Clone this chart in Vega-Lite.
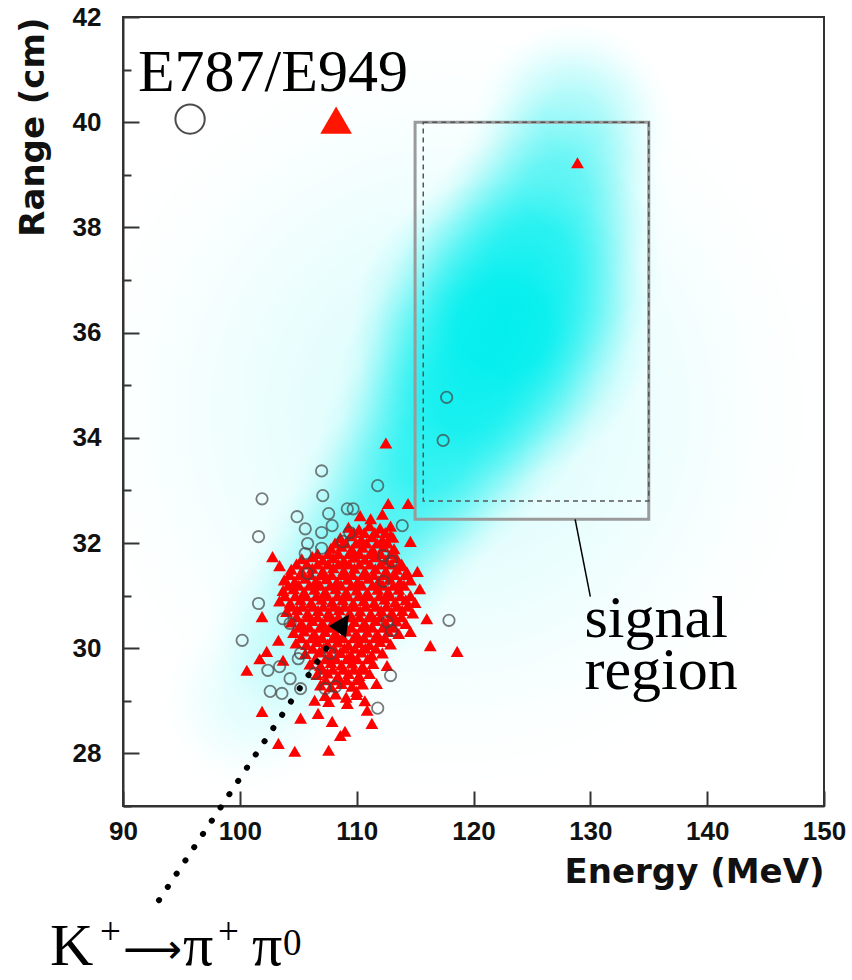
{
  "$schema": "https://vega.github.io/schema/vega-lite/v6.json",
  "width": 701,
  "height": 789,
  "autosize": "none",
  "padding": {"left": 123, "top": 17, "right": 28, "bottom": 174},
  "background": "white",
  "config": {
    "view": {"stroke": "#333", "strokeWidth": 2},
    "axis": {"grid": false, "domainColor": "#333", "domainWidth": 2, "tickColor": "#333", "tickWidth": 2,
      "labelFont": "Liberation Sans", "labelFontWeight": "bold", "labelFontSize": 26, "labelColor": "#111",
      "labelFlush": false, "labelOverlap": false,
      "titleFont": "DejaVu Sans", "titleFontWeight": "bold", "titleFontSize": 34, "titleColor": "#111"}
  },
  "layer": [
    {
      "data": {"values": [
        {"e1": 85.47, "e2": 150.53, "r1": 27.29, "r2": 41.72, "peak": 0.12},
        {"e1": 93.29, "e2": 108.71, "r1": 27.29, "r2": 30.71, "peak": 0.1},
        {"e1": 96.94, "e2": 114.06, "r1": 28.40, "r2": 32.20, "peak": 0.22},
        {"e1": 100.94, "e2": 118.06, "r1": 29.60, "r2": 33.40, "peak": 0.35},
        {"e1": 104.01, "e2": 121.99, "r1": 30.61, "r2": 34.59, "peak": 0.45},
        {"e1": 106.65, "e2": 126.35, "r1": 31.52, "r2": 35.88, "peak": 0.6},
        {"e1": 108.37, "e2": 130.63, "r1": 32.43, "r2": 37.37, "peak": 0.75},
        {"e1": 109.66, "e2": 135.34, "r1": 33.25, "r2": 38.95, "peak": 0.95},
        {"e1": 113.87, "e2": 136.13, "r1": 34.83, "r2": 39.77, "peak": 0.65},
        {"e1": 117.58, "e2": 136.42, "r1": 36.51, "r2": 40.69, "peak": 0.45},
        {"e1": 119.94, "e2": 137.06, "r1": 38.10, "r2": 41.90, "peak": 0.3}
      ]},
      "mark": {"type": "rect", "clip": true, "strokeWidth": 0,
        "fill": {"gradient": "radial", "x1": 0.5, "y1": 0.5, "r1": 0, "x2": 0.5, "y2": 0.5, "r2": 0.5,
          "stops": [
            {"offset": 0, "color": "rgba(0,238,238,1)"},
            {"offset": 0.3, "color": "rgba(0,238,238,0.92)"},
            {"offset": 0.5, "color": "rgba(0,238,238,0.62)"},
            {"offset": 0.7, "color": "rgba(0,238,238,0.3)"},
            {"offset": 0.85, "color": "rgba(0,238,238,0.1)"},
            {"offset": 1, "color": "rgba(0,238,238,0)"}
          ]}},
      "encoding": {
        "x": {"field": "e1", "type": "quantitative", "scale": {"domain": [90, 150], "nice": false, "zero": false},
          "axis": {"values": [90,91,92,94,95,96,98,99,100,101,102,104,105,106,108,109,110,111,112,114,115,116,118,119,120,121,122,124,125,126,128,129,130,131,132,134,135,136,138,139,140,141,142,144,145,146,148,149,150],
            "labelExpr": "datum.value % 10 === 0 ? datum.label : ''",
            "labelOverlap": false, "labelFlush": false,
            "tickSize": {"condition": {"test": "datum.value % 10 === 0", "value": -15}, "value": -7},
            "tickOpacity": {"condition": {"test": "datum.value % 2 !== 0", "value": 0}, "value": 1},
            "labelPadding": 27,
            "title": "Energy (MeV)", "titleX": 701, "titleY": 76, "titleAlign": "right", "titleBaseline": "alphabetic", "titleAnchor": "end"}},
        "x2": {"field": "e2"},
        "y": {"field": "r1", "type": "quantitative", "scale": {"domain": [27, 42], "nice": false, "zero": false},
          "axis": {"values": [27,27.5,28,28.5,29,29.5,30,30.5,31,31.5,32,32.5,33,33.5,34,34.5,35,35.5,36,36.5,37,37.5,38,38.5,39,39.5,40,40.5,41,41.5,42],
            "labelExpr": "datum.value % 2 === 0 ? datum.label : ''",
            "labelOverlap": false, "labelFlush": false,
            "tickSize": {"condition": {"test": "datum.value % 2 === 0", "value": -16}, "value": -8},
            "labelPadding": 38,
            "title": "Range (cm)", "titleAngle": -90, "titleX": -90, "titleY": 0, "titleAlign": "right", "titleBaseline": "middle", "titleAnchor": "end"}},
        "y2": {"field": "r2"},
        "opacity": {"field": "peak", "type": "quantitative", "scale": null}
      }
    },
    {
      "data": {"values": [{"e1": 115, "e2": 135, "r1": 32.45, "r2": 40}]},
      "mark": {"type": "rect", "filled": false, "stroke": "#9a9a9a", "strokeWidth": 3},
      "encoding": {
        "x": {"field": "e1", "type": "quantitative", "scale": {"domain": [90, 150], "nice": false, "zero": false}},
        "x2": {"field": "e2"},
        "y": {"field": "r1", "type": "quantitative", "scale": {"domain": [27, 42], "nice": false, "zero": false}},
        "y2": {"field": "r2"}
      }
    },
    {
      "data": {"values": [{"e1": 115.7, "e2": 135, "r1": 32.8, "r2": 40}]},
      "mark": {"type": "rect", "filled": false, "stroke": "#555", "strokeWidth": 1.5, "strokeDash": [5, 4]},
      "encoding": {
        "x": {"field": "e1", "type": "quantitative", "scale": {"domain": [90, 150], "nice": false, "zero": false}},
        "x2": {"field": "e2"},
        "y": {"field": "r1", "type": "quantitative", "scale": {"domain": [27, 42], "nice": false, "zero": false}},
        "y2": {"field": "r2"}
      }
    },
    {
      "data": {"values": [
        {"energy": 128.9, "range": 39.23}, {"energy": 112.5, "range": 33.9}, {"energy": 112.7, "range": 32.75}, {"energy": 114.4, "range": 32.75},
        {"energy": 102.8, "range": 31.74}, {"energy": 103.4, "range": 31.57}, {"energy": 101.9, "range": 30.6}, {"energy": 103.3, "range": 30.15},
        {"energy": 102.3, "range": 29.94}, {"energy": 101.7, "range": 29.8}, {"energy": 100.6, "range": 29.58}, {"energy": 103.7, "range": 29.77},
        {"energy": 101.9, "range": 28.8}, {"energy": 105.2, "range": 28.67}, {"energy": 103.3, "range": 28.19}, {"energy": 104.7, "range": 28.04},
        {"energy": 106.7, "range": 28.76}, {"energy": 107.9, "range": 28.61}, {"energy": 107.6, "range": 28.06}, {"energy": 108.6, "range": 28.34},
        {"energy": 109.0, "range": 28.42}, {"energy": 107.6, "range": 28.99}, {"energy": 106.4, "range": 29.01}, {"energy": 109.2, "range": 28.95},
        {"energy": 116.0, "range": 30.56}, {"energy": 116.3, "range": 30.05}, {"energy": 118.6, "range": 29.94}, {"energy": 112.6, "range": 29.67},
        {"energy": 111.7, "range": 29.33}, {"energy": 110.9, "range": 28.82}, {"energy": 111.3, "range": 28.57}, {"energy": 114.6, "range": 30.32},
        {"energy": 115.2, "range": 31.46}, {"energy": 115.4, "range": 31.13}, {"energy": 113.7, "range": 31.57}, {"energy": 114.6, "range": 32.03},
        {"energy": 112.9, "range": 32.14}, {"energy": 110.0, "range": 29.18}, {"energy": 110.7, "range": 29.0},
        {"energy": 110.3, "range": 32.52}, {"energy": 111.2, "range": 32.46}, {"energy": 112.2, "range": 32.55},
        {"energy": 109.3, "range": 32.3}, {"energy": 110.2, "range": 32.26}, {"energy": 111.1, "range": 32.33}, {"energy": 112.0, "range": 32.28}, {"energy": 112.9, "range": 32.32},
        {"energy": 108.6, "range": 32.1}, {"energy": 109.5, "range": 32.14}, {"energy": 110.4, "range": 32.07}, {"energy": 111.3, "range": 32.12}, {"energy": 112.2, "range": 32.06}, {"energy": 113.1, "range": 32.11},
        {"energy": 107.8, "range": 31.9}, {"energy": 108.7, "range": 31.94}, {"energy": 109.6, "range": 31.88}, {"energy": 110.5, "range": 31.92}, {"energy": 111.4, "range": 31.87}, {"energy": 112.3, "range": 31.93}, {"energy": 113.2, "range": 31.89},
        {"energy": 105.3, "range": 31.7}, {"energy": 106.2, "range": 31.74}, {"energy": 107.1, "range": 31.68}, {"energy": 108.0, "range": 31.72}, {"energy": 108.9, "range": 31.67}, {"energy": 109.8, "range": 31.73}, {"energy": 110.7, "range": 31.69}, {"energy": 111.6, "range": 31.74}, {"energy": 112.5, "range": 31.68}, {"energy": 113.4, "range": 31.72},
        {"energy": 104.4, "range": 31.5}, {"energy": 105.3, "range": 31.46}, {"energy": 106.2, "range": 31.52}, {"energy": 107.1, "range": 31.47}, {"energy": 108.0, "range": 31.53}, {"energy": 108.9, "range": 31.48}, {"energy": 109.8, "range": 31.52}, {"energy": 110.7, "range": 31.46}, {"energy": 111.6, "range": 31.51}, {"energy": 112.5, "range": 31.47}, {"energy": 113.4, "range": 31.5}, {"energy": 114.3, "range": 31.45},
        {"energy": 103.8, "range": 31.3}, {"energy": 104.7, "range": 31.27}, {"energy": 105.6, "range": 31.33}, {"energy": 106.5, "range": 31.28}, {"energy": 107.4, "range": 31.32}, {"energy": 108.3, "range": 31.26}, {"energy": 109.2, "range": 31.31}, {"energy": 110.1, "range": 31.27}, {"energy": 111.0, "range": 31.33}, {"energy": 111.9, "range": 31.28}, {"energy": 112.8, "range": 31.31}, {"energy": 113.7, "range": 31.26}, {"energy": 114.6, "range": 31.3},
        {"energy": 103.7, "range": 31.1}, {"energy": 104.6, "range": 31.13}, {"energy": 105.5, "range": 31.07}, {"energy": 106.4, "range": 31.12}, {"energy": 107.3, "range": 31.08}, {"energy": 108.2, "range": 31.13}, {"energy": 109.1, "range": 31.07}, {"energy": 110.0, "range": 31.11}, {"energy": 110.9, "range": 31.06}, {"energy": 111.8, "range": 31.12}, {"energy": 112.7, "range": 31.08}, {"energy": 113.6, "range": 31.12},
        {"energy": 103.4, "range": 30.9}, {"energy": 104.3, "range": 30.86}, {"energy": 105.2, "range": 30.92}, {"energy": 106.1, "range": 30.87}, {"energy": 107.0, "range": 30.93}, {"energy": 107.9, "range": 30.88}, {"energy": 108.8, "range": 30.92}, {"energy": 109.7, "range": 30.86}, {"energy": 110.6, "range": 30.91}, {"energy": 111.5, "range": 30.87}, {"energy": 112.4, "range": 30.93}, {"energy": 113.3, "range": 30.88}, {"energy": 114.2, "range": 30.92}, {"energy": 115.0, "range": 30.87},
        {"energy": 104.0, "range": 30.7}, {"energy": 104.9, "range": 30.73}, {"energy": 105.8, "range": 30.67}, {"energy": 106.7, "range": 30.72}, {"energy": 107.6, "range": 30.68}, {"energy": 108.5, "range": 30.73}, {"energy": 109.4, "range": 30.67}, {"energy": 110.3, "range": 30.71}, {"energy": 111.2, "range": 30.66}, {"energy": 112.1, "range": 30.72}, {"energy": 113.0, "range": 30.68}, {"energy": 113.9, "range": 30.72}, {"energy": 114.8, "range": 30.67},
        {"energy": 104.4, "range": 30.5}, {"energy": 105.3, "range": 30.47}, {"energy": 106.2, "range": 30.53}, {"energy": 107.1, "range": 30.48}, {"energy": 108.0, "range": 30.52}, {"energy": 108.9, "range": 30.46}, {"energy": 109.8, "range": 30.51}, {"energy": 110.7, "range": 30.47}, {"energy": 111.6, "range": 30.53}, {"energy": 112.5, "range": 30.48}, {"energy": 113.4, "range": 30.52}, {"energy": 114.2, "range": 30.47},
        {"energy": 104.6, "range": 30.3}, {"energy": 105.5, "range": 30.33}, {"energy": 106.4, "range": 30.27}, {"energy": 107.3, "range": 30.32}, {"energy": 108.2, "range": 30.28}, {"energy": 109.1, "range": 30.33}, {"energy": 110.0, "range": 30.27}, {"energy": 110.9, "range": 30.31}, {"energy": 111.8, "range": 30.26}, {"energy": 112.7, "range": 30.32}, {"energy": 113.6, "range": 30.28},
        {"energy": 104.8, "range": 30.1}, {"energy": 105.7, "range": 30.07}, {"energy": 106.6, "range": 30.13}, {"energy": 107.5, "range": 30.08}, {"energy": 108.4, "range": 30.12}, {"energy": 109.3, "range": 30.06}, {"energy": 110.2, "range": 30.11}, {"energy": 111.1, "range": 30.07}, {"energy": 112.0, "range": 30.13}, {"energy": 112.9, "range": 30.08},
        {"energy": 105.6, "range": 29.9}, {"energy": 106.8, "range": 29.93}, {"energy": 107.7, "range": 29.87}, {"energy": 108.6, "range": 29.92}, {"energy": 109.5, "range": 29.88}, {"energy": 110.4, "range": 29.93}, {"energy": 111.3, "range": 29.87}, {"energy": 112.2, "range": 29.91},
        {"energy": 106.0, "range": 29.7}, {"energy": 106.9, "range": 29.67}, {"energy": 107.8, "range": 29.73}, {"energy": 108.7, "range": 29.68}, {"energy": 109.6, "range": 29.72}, {"energy": 110.5, "range": 29.66}, {"energy": 111.4, "range": 29.71},
        {"energy": 106.6, "range": 29.5}, {"energy": 107.5, "range": 29.53}, {"energy": 108.4, "range": 29.47}, {"energy": 109.3, "range": 29.52}, {"energy": 110.2, "range": 29.48}, {"energy": 111.1, "range": 29.52},
        {"energy": 106.9, "range": 29.3}, {"energy": 107.8, "range": 29.27}, {"energy": 108.7, "range": 29.33}, {"energy": 109.6, "range": 29.28}, {"energy": 110.5, "range": 29.32},
        {"energy": 107.3, "range": 29.1}, {"energy": 108.2, "range": 29.13}, {"energy": 109.1, "range": 29.07}, {"energy": 110.0, "range": 29.12},
        {"energy": 109.75, "range": 32.2}, {"energy": 110.65, "range": 32.2}, {"energy": 111.55, "range": 32.2}, {"energy": 112.45, "range": 32.2},
        {"energy": 108.15, "range": 32.0}, {"energy": 109.05, "range": 32.0}, {"energy": 109.95, "range": 32.0}, {"energy": 110.85, "range": 32.0}, {"energy": 111.75, "range": 32.0}, {"energy": 112.65, "range": 32.0},
        {"energy": 106.65, "range": 31.8}, {"energy": 107.55, "range": 31.8}, {"energy": 108.45, "range": 31.8}, {"energy": 109.35, "range": 31.8}, {"energy": 110.25, "range": 31.8}, {"energy": 111.15, "range": 31.8}, {"energy": 112.05, "range": 31.8}, {"energy": 112.95, "range": 31.8},
        {"energy": 104.85, "range": 31.6}, {"energy": 105.75, "range": 31.6}, {"energy": 106.65, "range": 31.6}, {"energy": 107.55, "range": 31.6}, {"energy": 108.45, "range": 31.6}, {"energy": 109.35, "range": 31.6}, {"energy": 110.25, "range": 31.6}, {"energy": 111.15, "range": 31.6}, {"energy": 112.05, "range": 31.6}, {"energy": 112.95, "range": 31.6}, {"energy": 113.85, "range": 31.6},
        {"energy": 104.25, "range": 31.4}, {"energy": 105.15, "range": 31.4}, {"energy": 106.05, "range": 31.4}, {"energy": 106.95, "range": 31.4}, {"energy": 107.85, "range": 31.4}, {"energy": 108.75, "range": 31.4}, {"energy": 109.65, "range": 31.4}, {"energy": 110.55, "range": 31.4}, {"energy": 111.45, "range": 31.4}, {"energy": 112.35, "range": 31.4}, {"energy": 113.25, "range": 31.4}, {"energy": 114.15, "range": 31.4},
        {"energy": 104.15, "range": 31.2}, {"energy": 105.05, "range": 31.2}, {"energy": 105.95, "range": 31.2}, {"energy": 106.85, "range": 31.2}, {"energy": 107.75, "range": 31.2}, {"energy": 108.65, "range": 31.2}, {"energy": 109.55, "range": 31.2}, {"energy": 110.45, "range": 31.2}, {"energy": 111.35, "range": 31.2}, {"energy": 112.25, "range": 31.2}, {"energy": 113.15, "range": 31.2}, {"energy": 114.05, "range": 31.2},
        {"energy": 103.85, "range": 31.0}, {"energy": 104.75, "range": 31.0}, {"energy": 105.65, "range": 31.0}, {"energy": 106.55, "range": 31.0}, {"energy": 107.45, "range": 31.0}, {"energy": 108.35, "range": 31.0}, {"energy": 109.25, "range": 31.0}, {"energy": 110.15, "range": 31.0}, {"energy": 111.05, "range": 31.0}, {"energy": 111.95, "range": 31.0}, {"energy": 112.85, "range": 31.0}, {"energy": 113.75, "range": 31.0}, {"energy": 114.6, "range": 31.0},
        {"energy": 104.45, "range": 30.8}, {"energy": 105.35, "range": 30.8}, {"energy": 106.25, "range": 30.8}, {"energy": 107.15, "range": 30.8}, {"energy": 108.05, "range": 30.8}, {"energy": 108.95, "range": 30.8}, {"energy": 109.85, "range": 30.8}, {"energy": 110.75, "range": 30.8}, {"energy": 111.65, "range": 30.8}, {"energy": 112.55, "range": 30.8}, {"energy": 113.45, "range": 30.8}, {"energy": 114.35, "range": 30.8},
        {"energy": 104.85, "range": 30.6}, {"energy": 105.75, "range": 30.6}, {"energy": 106.65, "range": 30.6}, {"energy": 107.55, "range": 30.6}, {"energy": 108.45, "range": 30.6}, {"energy": 109.35, "range": 30.6}, {"energy": 110.25, "range": 30.6}, {"energy": 111.15, "range": 30.6}, {"energy": 112.05, "range": 30.6}, {"energy": 112.95, "range": 30.6}, {"energy": 113.85, "range": 30.6},
        {"energy": 105.05, "range": 30.4}, {"energy": 105.95, "range": 30.4}, {"energy": 106.85, "range": 30.4}, {"energy": 107.75, "range": 30.4}, {"energy": 108.65, "range": 30.4}, {"energy": 109.55, "range": 30.4}, {"energy": 110.45, "range": 30.4}, {"energy": 111.35, "range": 30.4}, {"energy": 112.25, "range": 30.4}, {"energy": 113.15, "range": 30.4},
        {"energy": 105.25, "range": 30.2}, {"energy": 106.15, "range": 30.2}, {"energy": 107.05, "range": 30.2}, {"energy": 107.95, "range": 30.2}, {"energy": 108.85, "range": 30.2}, {"energy": 109.75, "range": 30.2}, {"energy": 110.65, "range": 30.2}, {"energy": 111.55, "range": 30.2}, {"energy": 112.45, "range": 30.2},
        {"energy": 106.25, "range": 30.0}, {"energy": 107.15, "range": 30.0}, {"energy": 108.05, "range": 30.0}, {"energy": 108.95, "range": 30.0}, {"energy": 109.85, "range": 30.0}, {"energy": 110.75, "range": 30.0}, {"energy": 111.65, "range": 30.0},
        {"energy": 106.45, "range": 29.8}, {"energy": 107.35, "range": 29.8}, {"energy": 108.25, "range": 29.8}, {"energy": 109.15, "range": 29.8}, {"energy": 110.05, "range": 29.8}, {"energy": 110.95, "range": 29.8},
        {"energy": 107.05, "range": 29.6}, {"energy": 107.95, "range": 29.6}, {"energy": 108.85, "range": 29.6}, {"energy": 109.75, "range": 29.6}, {"energy": 110.65, "range": 29.6},
        {"energy": 107.35, "range": 29.4}, {"energy": 108.25, "range": 29.4}, {"energy": 109.15, "range": 29.4}, {"energy": 110.05, "range": 29.4}
      ]},
      "mark": {"type": "point", "shape": "triangle-up", "filled": true, "color": "#ff0000", "opacity": 1, "size": 165},
      "encoding": {
        "x": {"field": "energy", "type": "quantitative", "scale": {"domain": [90, 150], "nice": false, "zero": false}},
        "y": {"field": "range", "type": "quantitative", "scale": {"domain": [27, 42], "nice": false, "zero": false}}
      }
    },
    {
      "data": {"values": [
        {"energy": 117.7, "range": 34.77}, {"energy": 117.4, "range": 33.95}, {"energy": 111.8, "range": 33.09}, {"energy": 113.9, "range": 32.33},
        {"energy": 107.0, "range": 33.37}, {"energy": 101.9, "range": 32.84}, {"energy": 107.1, "range": 32.9}, {"energy": 107.6, "range": 32.56},
        {"energy": 109.2, "range": 32.65}, {"energy": 101.6, "range": 32.12}, {"energy": 104.9, "range": 32.5}, {"energy": 105.6, "range": 32.27},
        {"energy": 107.0, "range": 32.2}, {"energy": 107.9, "range": 32.33}, {"energy": 108.8, "range": 32.03}, {"energy": 105.8, "range": 31.99},
        {"energy": 105.6, "range": 31.8}, {"energy": 107.0, "range": 31.9}, {"energy": 101.6, "range": 30.85}, {"energy": 100.2, "range": 30.15},
        {"energy": 117.9, "range": 30.53}, {"energy": 112.9, "range": 29.48}, {"energy": 111.8, "range": 28.86}, {"energy": 102.4, "range": 29.58},
        {"energy": 103.4, "range": 29.65}, {"energy": 104.3, "range": 29.42}, {"energy": 102.6, "range": 29.18}, {"energy": 105.2, "range": 29.23},
        {"energy": 103.6, "range": 29.14}, {"energy": 106.4, "range": 29.52}, {"energy": 107.3, "range": 29.23}, {"energy": 107.7, "range": 29.9},
        {"energy": 105.2, "range": 29.9}, {"energy": 109.7, "range": 32.65}, {"energy": 109.4, "range": 32.2}, {"energy": 112.3, "range": 31.76},
        {"energy": 113.0, "range": 31.65}, {"energy": 112.3, "range": 31.27}, {"energy": 113.0, "range": 30.34}, {"energy": 103.7, "range": 30.56},
        {"energy": 104.3, "range": 30.47}, {"energy": 105.0, "range": 29.8}, {"energy": 108.2, "range": 29.27}, {"energy": 112.6, "range": 30.5},
        {"energy": 105.8, "range": 31.42}
      ]},
      "mark": {"type": "point", "shape": "circle", "filled": false, "stroke": "#444", "strokeWidth": 1.8, "size": 130},
      "encoding": {
        "x": {"field": "energy", "type": "quantitative", "scale": {"domain": [90, 150], "nice": false, "zero": false}},
        "y": {"field": "range", "type": "quantitative", "scale": {"domain": [27, 42], "nice": false, "zero": false}}
      }
    },
    {
      "data": {"values": [{"energy": 128.7, "range": 32.45}, {"energy": 130.0, "range": 30.98}]},
      "mark": {"type": "line", "color": "black", "strokeWidth": 1.5},
      "encoding": {
        "x": {"field": "energy", "type": "quantitative", "scale": {"domain": [90, 150], "nice": false, "zero": false}},
        "y": {"field": "range", "type": "quantitative", "scale": {"domain": [27, 42], "nice": false, "zero": false}}
      }
    },
    {
      "data": {"values": [{"energy": 93.08, "range": 25.21}, {"energy": 108.0, "range": 30.2}]},
      "mark": {"type": "line", "color": "black", "strokeWidth": 6, "strokeCap": "round", "strokeDash": [0.1, 15.8]},
      "encoding": {
        "x": {"field": "energy", "type": "quantitative", "scale": {"domain": [90, 150], "nice": false, "zero": false}},
        "y": {"field": "range", "type": "quantitative", "scale": {"domain": [27, 42], "nice": false, "zero": false}}
      }
    },
    {
      "data": {"values": [{"energy": 108.72, "range": 30.435}]},
      "mark": {"type": "point", "shape": "M0.559,-0.829L0.328,0.944L-0.998,0.05Z", "filled": true, "color": "black", "opacity": 1, "size": 680},
      "encoding": {
        "x": {"field": "energy", "type": "quantitative", "scale": {"domain": [90, 150], "nice": false, "zero": false}},
        "y": {"field": "range", "type": "quantitative", "scale": {"domain": [27, 42], "nice": false, "zero": false}}
      }
    },
    {
      "data": {"values": [{"energy": 95.74, "range": 40.06}]},
      "mark": {"type": "point", "shape": "circle", "filled": false, "stroke": "black", "strokeWidth": 2, "size": 860},
      "encoding": {
        "x": {"field": "energy", "type": "quantitative", "scale": {"domain": [90, 150], "nice": false, "zero": false}},
        "y": {"field": "range", "type": "quantitative", "scale": {"domain": [27, 42], "nice": false, "zero": false}}
      }
    },
    {
      "data": {"values": [{"energy": 108.24, "range": 40.04}]},
      "mark": {"type": "point", "shape": "triangle-up", "filled": true, "color": "#ff1500", "opacity": 1, "size": 1000},
      "encoding": {
        "x": {"field": "energy", "type": "quantitative", "scale": {"domain": [90, 150], "nice": false, "zero": false}},
        "y": {"field": "range", "type": "quantitative", "scale": {"domain": [27, 42], "nice": false, "zero": false}}
      }
    },
    {
      "data": {"values": [
        {"energy": 91.28, "range": 40.59, "label": "E787/E949"},
        {"energy": 129.5, "range": 30.22, "label": "signal\nregion"},
        {"energy": 83.75, "range": 23.98, "label": "K"},
        {"energy": 95.14, "range": 23.98, "label": "π"},
        {"energy": 101.04, "range": 23.98, "label": "π"}
      ]},
      "mark": {"type": "text", "font": "Liberation Serif", "fontSize": 60, "align": "left", "baseline": "alphabetic", "color": "black", "lineBreak": "\n", "lineHeight": 52},
      "encoding": {
        "x": {"field": "energy", "type": "quantitative", "scale": {"domain": [90, 150], "nice": false, "zero": false}},
        "y": {"field": "range", "type": "quantitative", "scale": {"domain": [27, 42], "nice": false, "zero": false}},
        "text": {"field": "label"}
      }
    },
    {
      "data": {"values": [
        {"energy": 88.03, "range": 24.37, "label": "+"},
        {"energy": 98.13, "range": 24.37, "label": "+"},
        {"energy": 103.7, "range": 24.17, "label": "0"}
      ]},
      "mark": {"type": "text", "font": "Liberation Serif", "fontSize": 37, "align": "left", "baseline": "alphabetic", "color": "black"},
      "encoding": {
        "x": {"field": "energy", "type": "quantitative", "scale": {"domain": [90, 150], "nice": false, "zero": false}},
        "y": {"field": "range", "type": "quantitative", "scale": {"domain": [27, 42], "nice": false, "zero": false}},
        "text": {"field": "label"}
      }
    },
    {
      "data": {"values": [{"energy": 90.0, "range": 24.24, "label": "⟶"}]},
      "mark": {"type": "text", "font": "DejaVu Sans", "fontSize": 41, "align": "left", "baseline": "middle", "color": "black"},
      "encoding": {
        "x": {"field": "energy", "type": "quantitative", "scale": {"domain": [90, 150], "nice": false, "zero": false}},
        "y": {"field": "range", "type": "quantitative", "scale": {"domain": [27, 42], "nice": false, "zero": false}},
        "text": {"field": "label"}
      }
    }
  ]
}
